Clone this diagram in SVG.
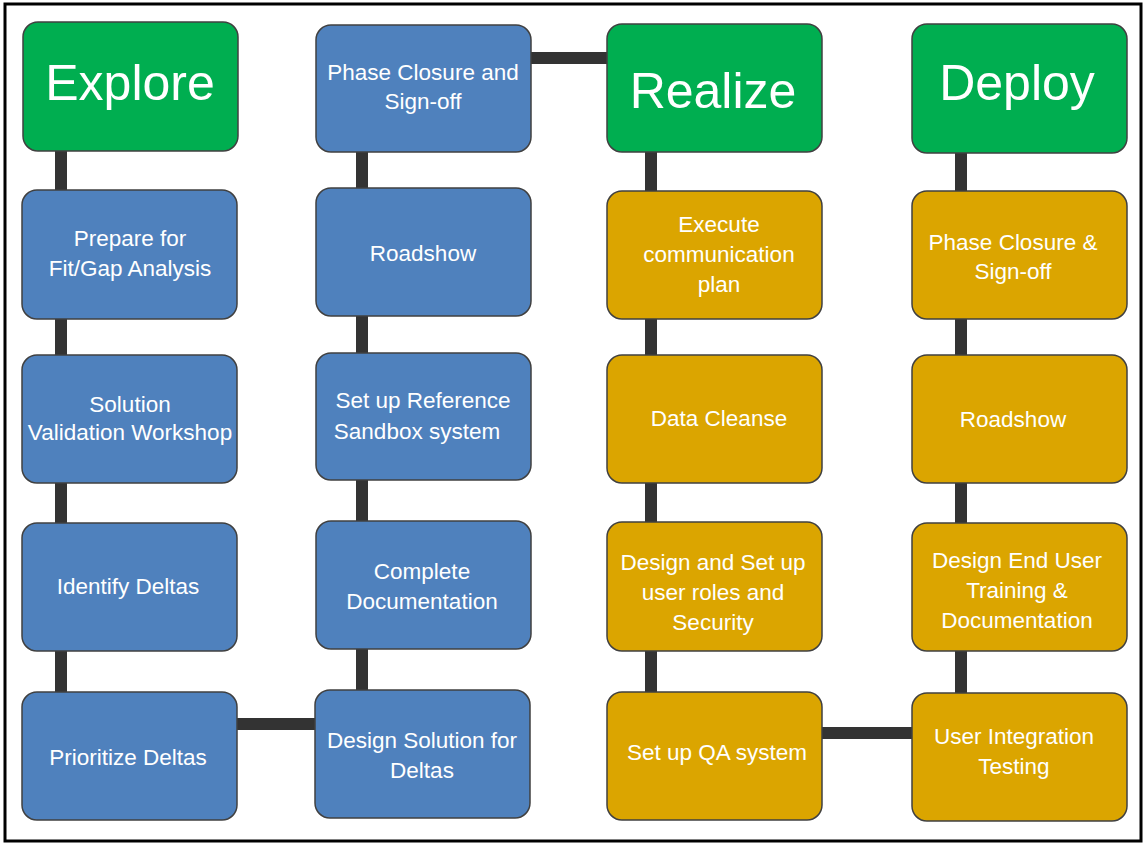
<svg xmlns="http://www.w3.org/2000/svg" width="1146" height="843" viewBox="0 0 1146 843">
<style>
.box{stroke:#404040;stroke-width:1.5}
.g{fill:#00AE50}.b{fill:#4F81BD}.y{fill:#DBA500}
.t{font-family:"Liberation Sans",Arial,sans-serif;font-size:22.5px;fill:#fff;text-anchor:middle}
.h{font-family:"Liberation Sans",Arial,sans-serif;font-size:50px;fill:#fff;text-anchor:middle}
.c{stroke:#333;stroke-width:12;fill:none}
</style>
<rect x="0" y="0" width="1146" height="843" fill="#fff"/>
<rect x="5" y="4" width="1136" height="837" fill="none" stroke="#000" stroke-width="3"/>
<g id="connectors">
<line class="c" x1="61" y1="150" x2="61" y2="695"/>
<line class="c" x1="362" y1="150" x2="362" y2="692"/>
<line class="c" x1="651" y1="150" x2="651" y2="694"/>
<line class="c" x1="961" y1="150" x2="961" y2="695"/>
<line class="c" x1="236" y1="724" x2="317" y2="724"/>
<line class="c" x1="529" y1="58" x2="608" y2="58"/>
<line class="c" x1="820" y1="733" x2="913" y2="733"/>
</g>
<g id="explore"><rect class="box g" x="23" y="22" width="215" height="129" rx="15"/><text class="h" x="130" y="100">Explore</text></g>
<g id="prepare"><rect class="box b" x="22" y="190" width="215" height="129" rx="15"/><text class="t" x="130" y="246">Prepare for</text><text class="t" x="130" y="276">Fit/Gap Analysis</text></g>
<g id="solution"><rect class="box b" x="22" y="355" width="215" height="128" rx="15"/><text class="t" x="130" y="412">Solution</text><text class="t" x="130" y="440">Validation Workshop</text></g>
<g id="identify"><rect class="box b" x="22" y="523" width="215" height="128" rx="15"/><text class="t" x="128" y="594">Identify Deltas</text></g>
<g id="prioritize"><rect class="box b" x="22" y="692" width="215" height="128" rx="15"/><text class="t" x="128" y="765">Prioritize Deltas</text></g>
<g id="phase1"><rect class="box b" x="316" y="25" width="215" height="127" rx="15"/><text class="t" x="423" y="80">Phase Closure and</text><text class="t" x="423" y="109">Sign-off</text></g>
<g id="roadshow1"><rect class="box b" x="316" y="188" width="215" height="128" rx="15"/><text class="t" x="423" y="261">Roadshow</text></g>
<g id="sandbox"><rect class="box b" x="316" y="353" width="215" height="127" rx="15"/><text class="t" x="423" y="408">Set up Reference</text><text class="t" x="417" y="439">Sandbox system</text></g>
<g id="complete"><rect class="box b" x="316" y="521" width="215" height="128" rx="15"/><text class="t" x="422" y="579">Complete</text><text class="t" x="422" y="609">Documentation</text></g>
<g id="designsol"><rect class="box b" x="315" y="690" width="215" height="128" rx="15"/><text class="t" x="422" y="748">Design Solution for</text><text class="t" x="422" y="778">Deltas</text></g>
<g id="realize"><rect class="box g" x="607" y="24" width="215" height="128" rx="15"/><text class="h" x="713" y="108">Realize</text></g>
<g id="execute"><rect class="box y" x="607" y="191" width="215" height="128" rx="15"/><text class="t" x="719" y="232">Execute</text><text class="t" x="719" y="262">communication</text><text class="t" x="719" y="292">plan</text></g>
<g id="cleanse"><rect class="box y" x="607" y="355" width="215" height="128" rx="15"/><text class="t" x="719" y="426">Data Cleanse</text></g>
<g id="roles"><rect class="box y" x="607" y="522" width="215" height="129" rx="15"/><text class="t" x="713" y="570">Design and Set up</text><text class="t" x="713" y="600">user roles and</text><text class="t" x="713" y="630">Security</text></g>
<g id="qa"><rect class="box y" x="607" y="692" width="215" height="128" rx="15"/><text class="t" x="717" y="760">Set up QA system</text></g>
<g id="deploy"><rect class="box g" x="912" y="24" width="215" height="129" rx="15"/><text class="h" x="1017" y="100">Deploy</text></g>
<g id="phase2"><rect class="box y" x="912" y="191" width="215" height="128" rx="15"/><text class="t" x="1013" y="250">Phase Closure &amp;</text><text class="t" x="1013" y="279">Sign-off</text></g>
<g id="roadshow2"><rect class="box y" x="912" y="355" width="215" height="128" rx="15"/><text class="t" x="1013" y="427">Roadshow</text></g>
<g id="training"><rect class="box y" x="912" y="523" width="215" height="128" rx="15"/><text class="t" x="1017" y="568">Design End User</text><text class="t" x="1017" y="598">Training &amp;</text><text class="t" x="1017" y="628">Documentation</text></g>
<g id="uit"><rect class="box y" x="912" y="693" width="215" height="128" rx="15"/><text class="t" x="1014" y="744">User Integration</text><text class="t" x="1014" y="774">Testing</text></g>
</svg>
